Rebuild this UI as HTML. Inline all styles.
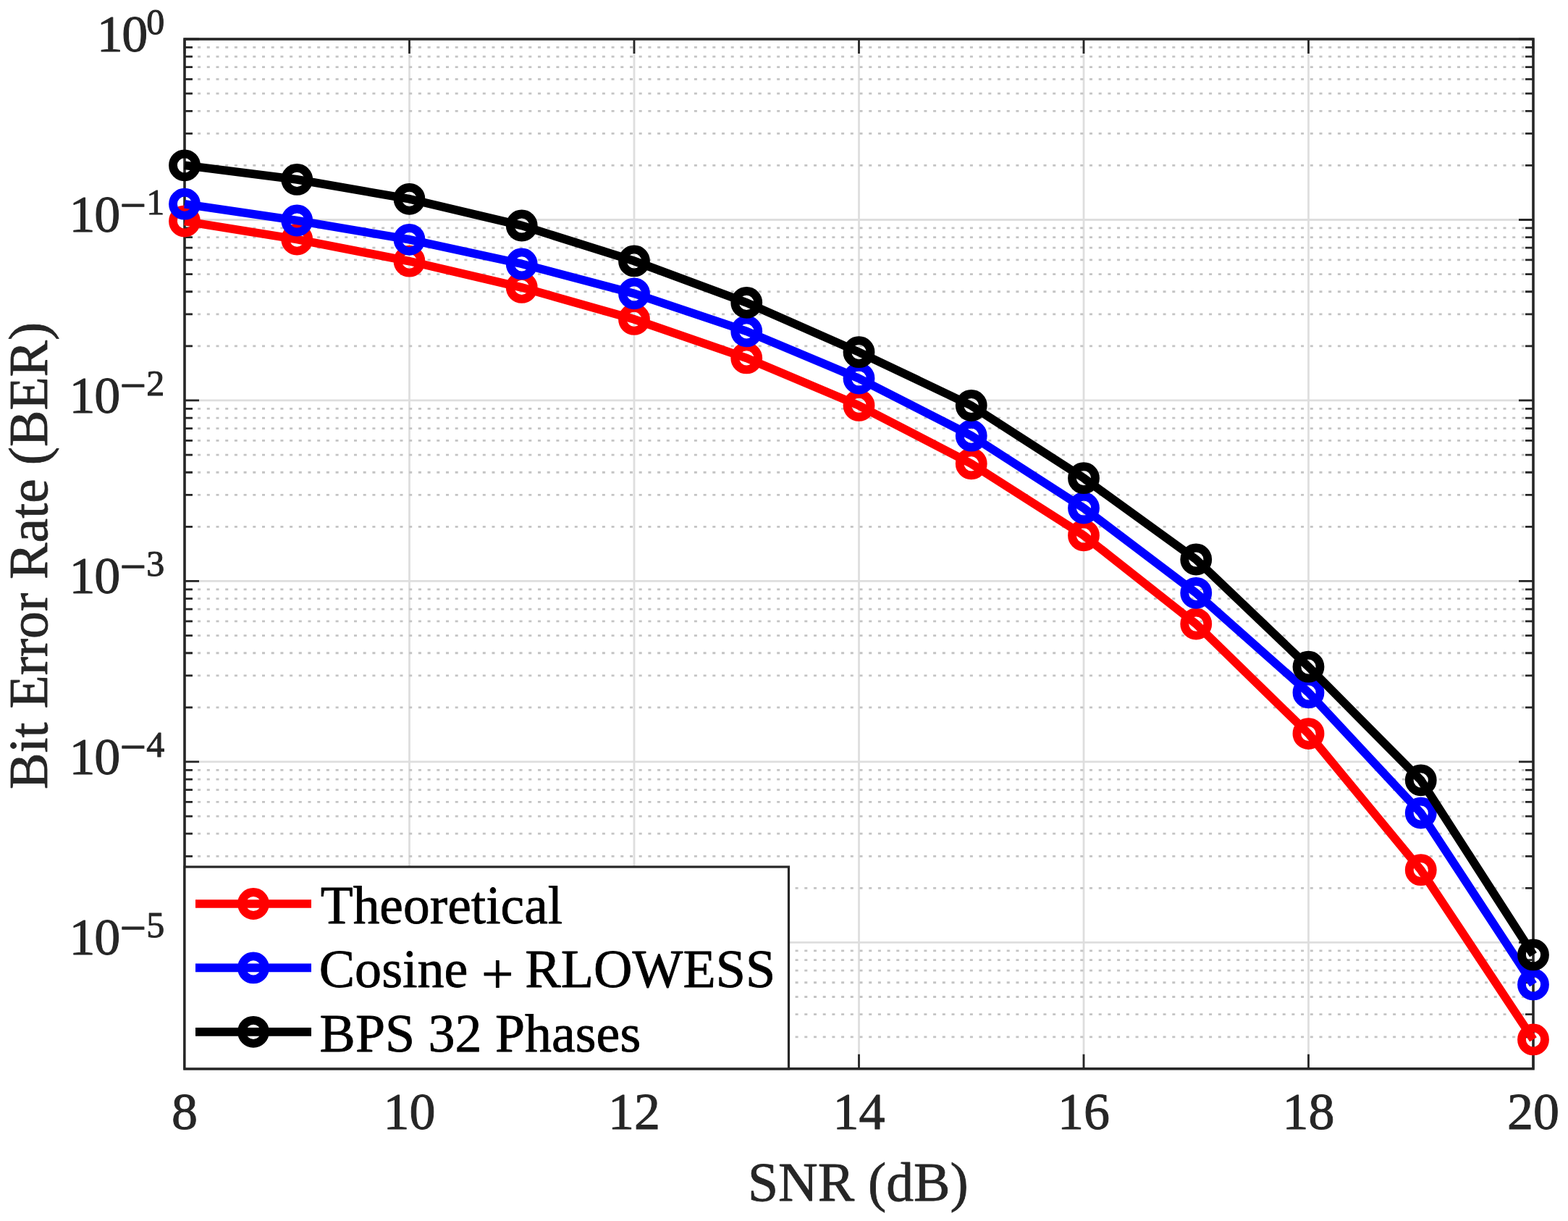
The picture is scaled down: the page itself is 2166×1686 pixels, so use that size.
<!DOCTYPE html>
<html><head><meta charset="utf-8"><style>
html,body{margin:0;padding:0;background:#fff;}
body{width:2166px;height:1686px;overflow:hidden;}
svg{display:block;}
</style></head><body>
<svg width="2166" height="1686" viewBox="0 0 2166 1686">
<rect x="0" y="0" width="2166" height="1686" fill="#fff"/>
<path d="M565.50 54.00V1475.80M876.00 54.00V1475.80M1186.50 54.00V1475.80M1497.00 54.00V1475.80M1807.50 54.00V1475.80M255.00 303.48H2118.00M255.00 552.97H2118.00M255.00 802.45H2118.00M255.00 1051.93H2118.00M255.00 1301.42H2118.00" stroke="#dedede" stroke-width="2.8" fill="none"/>
<path d="M255.00 1431.87H2118.00M255.00 1400.70H2118.00M255.00 1376.52H2118.00M255.00 1356.77H2118.00M255.00 1340.06H2118.00M255.00 1325.60H2118.00M255.00 1312.83H2118.00M255.00 1226.32H2118.00M255.00 1182.38H2118.00M255.00 1151.21H2118.00M255.00 1127.04H2118.00M255.00 1107.28H2118.00M255.00 1090.58H2118.00M255.00 1076.11H2118.00M255.00 1063.35H2118.00M255.00 976.83H2118.00M255.00 932.90H2118.00M255.00 901.73H2118.00M255.00 877.55H2118.00M255.00 857.80H2118.00M255.00 841.10H2118.00M255.00 826.63H2118.00M255.00 813.87H2118.00M255.00 727.35H2118.00M255.00 683.42H2118.00M255.00 652.25H2118.00M255.00 628.07H2118.00M255.00 608.31H2118.00M255.00 591.61H2118.00M255.00 577.14H2118.00M255.00 564.38H2118.00M255.00 477.87H2118.00M255.00 433.93H2118.00M255.00 402.76H2118.00M255.00 378.59H2118.00M255.00 358.83H2118.00M255.00 342.13H2118.00M255.00 327.66H2118.00M255.00 314.90H2118.00M255.00 228.38H2118.00M255.00 184.45H2118.00M255.00 153.28H2118.00M255.00 129.10H2118.00M255.00 109.35H2118.00M255.00 92.65H2118.00M255.00 78.18H2118.00M255.00 65.42H2118.00" stroke="#c4c4c4" stroke-width="2.8" stroke-dasharray="4.0 8.7" stroke-dashoffset="-5.4" fill="none"/>
<rect x="255.0" y="54.0" width="1863.0" height="1421.8" fill="none" stroke="#262626" stroke-width="3.6" stroke-linejoin="miter" stroke-linecap="square"/>
<path d="M255.00 1475.80V1455.80M255.00 54.00V74.00M565.50 1475.80V1455.80M565.50 54.00V74.00M876.00 1475.80V1455.80M876.00 54.00V74.00M1186.50 1475.80V1455.80M1186.50 54.00V74.00M1497.00 1475.80V1455.80M1497.00 54.00V74.00M1807.50 1475.80V1455.80M1807.50 54.00V74.00M2118.00 1475.80V1455.80M2118.00 54.00V74.00M255.00 54.00H275.00M2118.00 54.00H2098.00M255.00 303.48H275.00M2118.00 303.48H2098.00M255.00 552.97H275.00M2118.00 552.97H2098.00M255.00 802.45H275.00M2118.00 802.45H2098.00M255.00 1051.93H275.00M2118.00 1051.93H2098.00M255.00 1301.42H275.00M2118.00 1301.42H2098.00M255.00 1431.87H266.00M2118.00 1431.87H2107.00M255.00 1400.70H266.00M2118.00 1400.70H2107.00M255.00 1376.52H266.00M2118.00 1376.52H2107.00M255.00 1356.77H266.00M2118.00 1356.77H2107.00M255.00 1340.06H266.00M2118.00 1340.06H2107.00M255.00 1325.60H266.00M2118.00 1325.60H2107.00M255.00 1312.83H266.00M2118.00 1312.83H2107.00M255.00 1226.32H266.00M2118.00 1226.32H2107.00M255.00 1182.38H266.00M2118.00 1182.38H2107.00M255.00 1151.21H266.00M2118.00 1151.21H2107.00M255.00 1127.04H266.00M2118.00 1127.04H2107.00M255.00 1107.28H266.00M2118.00 1107.28H2107.00M255.00 1090.58H266.00M2118.00 1090.58H2107.00M255.00 1076.11H266.00M2118.00 1076.11H2107.00M255.00 1063.35H266.00M2118.00 1063.35H2107.00M255.00 976.83H266.00M2118.00 976.83H2107.00M255.00 932.90H266.00M2118.00 932.90H2107.00M255.00 901.73H266.00M2118.00 901.73H2107.00M255.00 877.55H266.00M2118.00 877.55H2107.00M255.00 857.80H266.00M2118.00 857.80H2107.00M255.00 841.10H266.00M2118.00 841.10H2107.00M255.00 826.63H266.00M2118.00 826.63H2107.00M255.00 813.87H266.00M2118.00 813.87H2107.00M255.00 727.35H266.00M2118.00 727.35H2107.00M255.00 683.42H266.00M2118.00 683.42H2107.00M255.00 652.25H266.00M2118.00 652.25H2107.00M255.00 628.07H266.00M2118.00 628.07H2107.00M255.00 608.31H266.00M2118.00 608.31H2107.00M255.00 591.61H266.00M2118.00 591.61H2107.00M255.00 577.14H266.00M2118.00 577.14H2107.00M255.00 564.38H266.00M2118.00 564.38H2107.00M255.00 477.87H266.00M2118.00 477.87H2107.00M255.00 433.93H266.00M2118.00 433.93H2107.00M255.00 402.76H266.00M2118.00 402.76H2107.00M255.00 378.59H266.00M2118.00 378.59H2107.00M255.00 358.83H266.00M2118.00 358.83H2107.00M255.00 342.13H266.00M2118.00 342.13H2107.00M255.00 327.66H266.00M2118.00 327.66H2107.00M255.00 314.90H266.00M2118.00 314.90H2107.00M255.00 228.38H266.00M2118.00 228.38H2107.00M255.00 184.45H266.00M2118.00 184.45H2107.00M255.00 153.28H266.00M2118.00 153.28H2107.00M255.00 129.10H266.00M2118.00 129.10H2107.00M255.00 109.35H266.00M2118.00 109.35H2107.00M255.00 92.65H266.00M2118.00 92.65H2107.00M255.00 78.18H266.00M2118.00 78.18H2107.00M255.00 65.42H266.00M2118.00 65.42H2107.00" stroke="#262626" stroke-width="2.8" fill="none"/>
<polyline points="255.00,305.48 410.25,330.60 565.50,360.67 720.75,396.93 876.00,440.91 1031.25,494.47 1186.50,559.95 1341.75,640.32 1497.00,739.29 1652.25,861.56 1807.50,1013.04 1962.75,1201.19 2118.00,1435.39" fill="none" stroke="#ff0000" stroke-width="11.7" stroke-linejoin="miter" stroke-linecap="butt"/>
<g fill="none" stroke="#ff0000" stroke-width="11.8"><circle cx="255.00" cy="305.48" r="16.0"/><circle cx="410.25" cy="330.60" r="16.0"/><circle cx="565.50" cy="360.67" r="16.0"/><circle cx="720.75" cy="396.93" r="16.0"/><circle cx="876.00" cy="440.91" r="16.0"/><circle cx="1031.25" cy="494.47" r="16.0"/><circle cx="1186.50" cy="559.95" r="16.0"/><circle cx="1341.75" cy="640.32" r="16.0"/><circle cx="1497.00" cy="739.29" r="16.0"/><circle cx="1652.25" cy="861.56" r="16.0"/><circle cx="1807.50" cy="1013.04" r="16.0"/><circle cx="1962.75" cy="1201.19" r="16.0"/><circle cx="2118.00" cy="1435.39" r="16.0"/></g>
<polyline points="255.00,281.70 410.25,304.50 565.50,330.80 720.75,364.40 876.00,405.30 1031.25,457.40 1186.50,522.50 1341.75,601.70 1497.00,701.50 1652.25,818.80 1807.50,956.30 1962.75,1122.60 2118.00,1359.40" fill="none" stroke="#0000ff" stroke-width="11.7" stroke-linejoin="miter" stroke-linecap="butt"/>
<g fill="none" stroke="#0000ff" stroke-width="11.8"><circle cx="255.00" cy="281.70" r="16.0"/><circle cx="410.25" cy="304.50" r="16.0"/><circle cx="565.50" cy="330.80" r="16.0"/><circle cx="720.75" cy="364.40" r="16.0"/><circle cx="876.00" cy="405.30" r="16.0"/><circle cx="1031.25" cy="457.40" r="16.0"/><circle cx="1186.50" cy="522.50" r="16.0"/><circle cx="1341.75" cy="601.70" r="16.0"/><circle cx="1497.00" cy="701.50" r="16.0"/><circle cx="1652.25" cy="818.80" r="16.0"/><circle cx="1807.50" cy="956.30" r="16.0"/><circle cx="1962.75" cy="1122.60" r="16.0"/><circle cx="2118.00" cy="1359.40" r="16.0"/></g>
<polyline points="255.00,228.30 410.25,247.90 565.50,274.80 720.75,311.50 876.00,360.40 1031.25,417.90 1186.50,486.20 1341.75,560.00 1497.00,660.20 1652.25,772.50 1807.50,920.70 1962.75,1077.30 2118.00,1318.40" fill="none" stroke="#000000" stroke-width="11.7" stroke-linejoin="miter" stroke-linecap="butt"/>
<g fill="none" stroke="#000000" stroke-width="11.8"><circle cx="255.00" cy="228.30" r="16.0"/><circle cx="410.25" cy="247.90" r="16.0"/><circle cx="565.50" cy="274.80" r="16.0"/><circle cx="720.75" cy="311.50" r="16.0"/><circle cx="876.00" cy="360.40" r="16.0"/><circle cx="1031.25" cy="417.90" r="16.0"/><circle cx="1186.50" cy="486.20" r="16.0"/><circle cx="1341.75" cy="560.00" r="16.0"/><circle cx="1497.00" cy="660.20" r="16.0"/><circle cx="1652.25" cy="772.50" r="16.0"/><circle cx="1807.50" cy="920.70" r="16.0"/><circle cx="1962.75" cy="1077.30" r="16.0"/><circle cx="2118.00" cy="1318.40" r="16.0"/></g>
<rect x="255.0" y="1197.0" width="834.5" height="278.79999999999995" fill="#fff" stroke="#262626" stroke-width="3.2"/>
<path d="M270 1248.0H430" stroke="#ff0000" stroke-width="11.7" fill="none"/>
<circle cx="350" cy="1248.0" r="16.0" fill="none" stroke="#ff0000" stroke-width="11.8"/>
<text x="442.8" y="1274.8" font-family="Liberation Serif, serif" font-size="73.44" fill="#000" stroke="#000" stroke-width="0.8" stroke-linejoin="round">Theoretical</text>
<path d="M270 1336.4H430" stroke="#0000ff" stroke-width="11.7" fill="none"/>
<circle cx="350" cy="1336.4" r="16.0" fill="none" stroke="#0000ff" stroke-width="11.8"/>
<text x="440.7" y="1363.1" font-family="Liberation Serif, serif" font-size="74.1" fill="#000" stroke="#000" stroke-width="0.8" stroke-linejoin="round">Cosine <tspan font-size="79" dy="8.1">+</tspan><tspan dy="-8.1" dx="-2.8"> RLOWESS</tspan></text>
<path d="M270 1424.8H430" stroke="#000000" stroke-width="11.7" fill="none"/>
<circle cx="350" cy="1424.8" r="16.0" fill="none" stroke="#000000" stroke-width="11.8"/>
<text x="441.6" y="1451.5" font-family="Liberation Serif, serif" font-size="73.92" fill="#000" stroke="#000" stroke-width="0.8" stroke-linejoin="round">BPS 32 Phases</text>
<g font-family="Liberation Serif, serif" font-size="72" fill="#262626" stroke="#262626" stroke-width="1.0" stroke-linejoin="round"><text x="255.00" y="1559.3" text-anchor="middle">8</text><text x="565.50" y="1559.3" text-anchor="middle">10</text><text x="876.00" y="1559.3" text-anchor="middle">12</text><text x="1186.50" y="1559.3" text-anchor="middle">14</text><text x="1497.00" y="1559.3" text-anchor="middle">16</text><text x="1807.50" y="1559.3" text-anchor="middle">18</text><text x="2118.00" y="1559.3" text-anchor="middle">20</text><text x="133.76 168.16" y="70.90">10</text><text x="202.2" y="46.70" font-size="50">0</text><text x="95.46 130.36" y="320.38">10</text><text x="165.66" y="304.98" font-size="64.7">−</text><text x="202.2" y="296.18" font-size="50">1</text><text x="95.46 130.36" y="569.87">10</text><text x="165.66" y="554.47" font-size="64.7">−</text><text x="202.2" y="545.67" font-size="50">2</text><text x="95.46 130.36" y="819.35">10</text><text x="165.66" y="803.95" font-size="64.7">−</text><text x="202.2" y="795.15" font-size="50">3</text><text x="95.46 130.36" y="1068.83">10</text><text x="165.66" y="1053.43" font-size="64.7">−</text><text x="202.2" y="1044.63" font-size="50">4</text><text x="95.46 130.36" y="1318.32">10</text><text x="165.66" y="1302.92" font-size="64.7">−</text><text x="202.2" y="1294.12" font-size="50">5</text></g>
<text x="1032.9" y="1658.3" font-family="Liberation Serif, serif" font-size="75.7" fill="#262626" stroke="#262626" stroke-width="0.8" stroke-linejoin="round">SNR (dB)</text>
<text transform="translate(64.9 1090.0) rotate(-90)" x="0" y="0" font-family="Liberation Serif, serif" font-size="75.7" fill="#262626" stroke="#262626" stroke-width="0.8" stroke-linejoin="round">Bit Error Rate (BER)</text>
</svg>
</body></html>
